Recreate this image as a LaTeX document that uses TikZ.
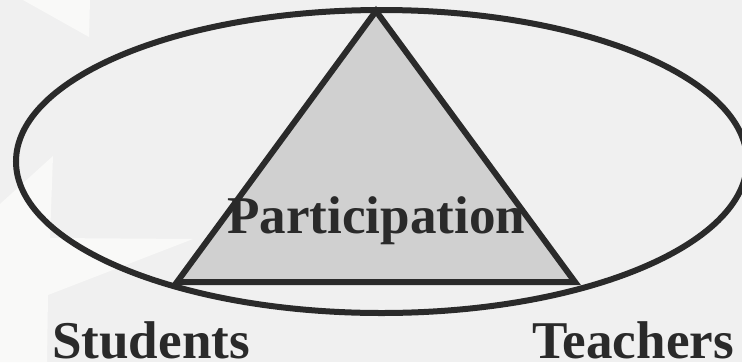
\documentclass[tikz,border=0pt]{standalone}
\usepackage{fontspec}
\setmainfont{Liberation Serif}
\definecolor{bgc}{HTML}{F0F0F0}
\definecolor{wm}{HTML}{F9F9F8}
\definecolor{ink}{HTML}{2A2A2A}
\definecolor{tri}{HTML}{D0D0D0}
\tikzset{
  outline/.style={draw=ink,line width=6bp},
  label/.style={text=ink,inner sep=0pt,font=\fontsize{53.3}{60}\selectfont\bfseries,anchor=base west}
}
\begin{document}
\begin{tikzpicture}[x=1bp,y=-1bp]
\useasboundingbox (0,0) rectangle (742,362);
\clip (0,0) rectangle (742,362);
\fill[bgc] (0,0) rectangle (742,362);
\fill[wm] (23,0) -- (89,37) -- (90,0) -- cycle;
\fill[wm] (0,204) -- (53,156) -- (50,238) -- (193,239) -- (48,295) -- (47,362) -- (0,362) -- cycle;
\draw[outline] (381.5,161.5) ellipse [x radius=365.5,y radius=151.5];
\coordinate (apex) at (376,11);
\coordinate (sl) at (177,282);
\coordinate (sr) at (575,282);
\draw[outline,fill=tri,line join=miter] (apex) -- (sl) -- (sr) -- cycle;
\node[label] (p) at (227,233.5) {Participation};
\node[label] (s) at (52,358) {Students};
\node[label] (t) at (532,358) {Teachers};
\end{tikzpicture}
\end{document}
